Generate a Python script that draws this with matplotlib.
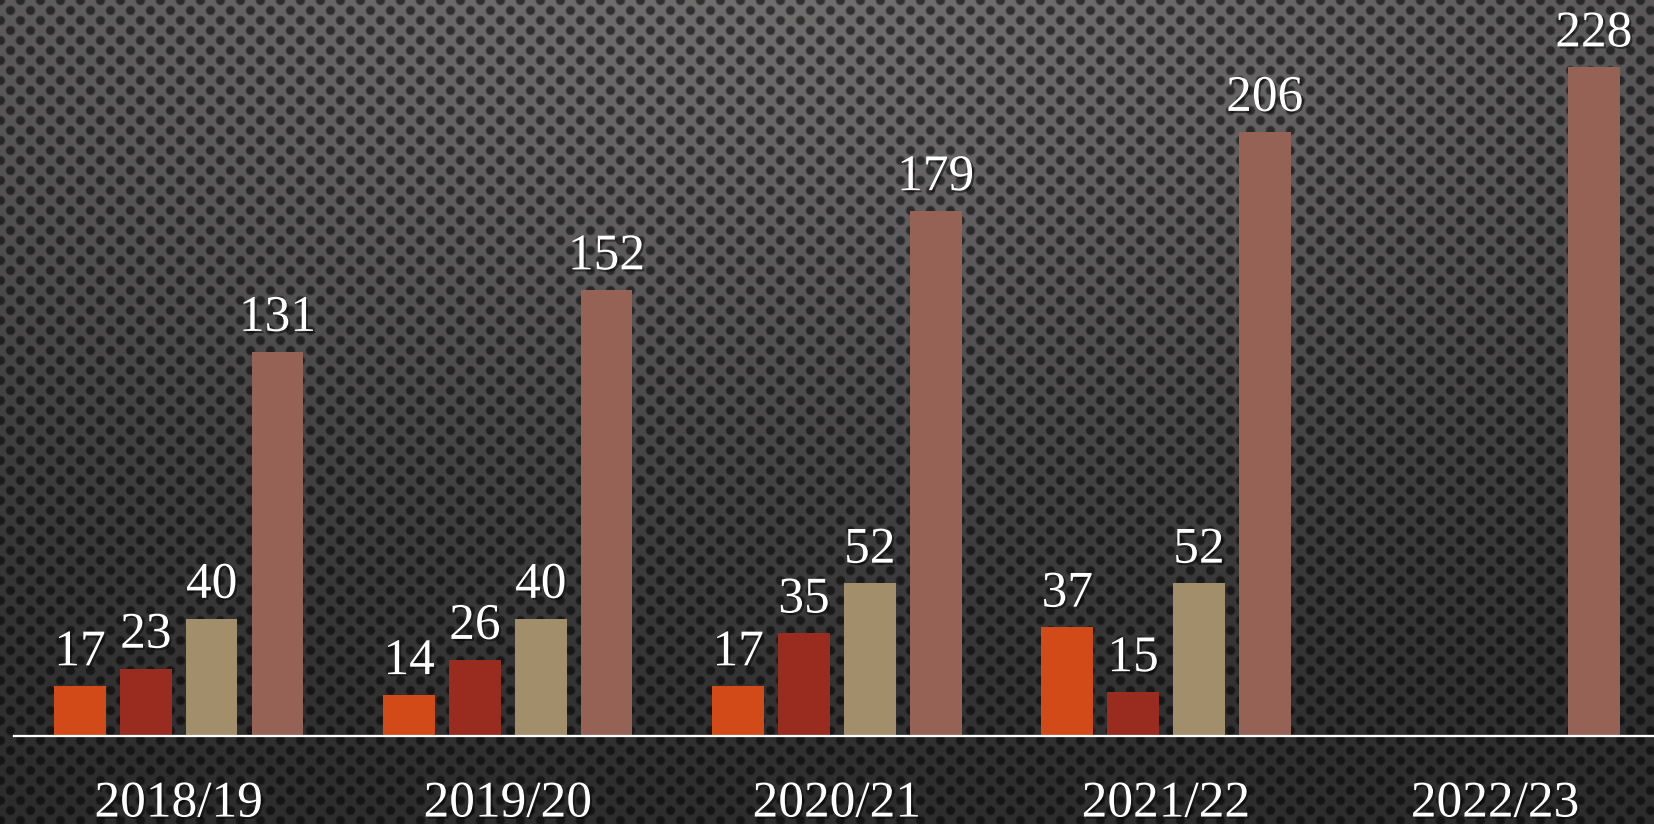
import numpy as np
import matplotlib
matplotlib.use('Agg')
import matplotlib.pyplot as plt
import matplotlib.patheffects as pe

# data
seasons = ['2018/19', '2019/20', '2020/21', '2021/22', '2022/23']
series_a = [17, 14, 17, 37, np.nan]
series_b = [23, 26, 35, 15, np.nan]
series_c = [40, 40, 52, 52, np.nan]
series_d = [131, 152, 179, 206, 228]
colors = ['#d24a18', '#9a2b1f', '#a38e6b', '#956255']

W, H = 1654, 824
fig = plt.figure(figsize=(W / 100, H / 100), dpi=100)

# perforated metal background with a soft light from the top
yy, xx = np.mgrid[0:H, 0:W].astype(float)
base = 40 + 70 * np.exp(-((xx - 800) / 1400) ** 2 - ((yy + 50) / 550) ** 2)
u = np.mod(xx, 20)
v = np.mod(yy, 20)
d1 = np.hypot(np.minimum(u, 20 - u), np.minimum(v, 20 - v))
d2 = np.hypot(u - 10, v - 10)
d = np.minimum(d1, d2)
dot = np.clip((5.5 - d) / 2.0, 0, 1)
lum = base * (1 - 0.55 * dot)
img = np.dstack([lum * 1.02, lum, lum]) / 255.0
fig.figimage(np.clip(img, 0, 1), 0, 0, origin='upper', zorder=-10)

ax = fig.add_axes([14.2 / W, 88 / H, 1645.5 / W, 733.3 / H])
ax.set_zorder(1)
ax.patch.set_visible(False)

x = np.arange(len(seasons))
font = 'Liberation Serif'
fs = 37
shadow = [pe.withSimplePatchShadow(offset=(1.5, -1.5), shadow_rgbFace='black', alpha=0.45)]

for k, (vals, c) in enumerate(zip([series_a, series_b, series_c, series_d], colors)):
    xs = x + (k - 1.5) * 0.2
    ax.bar(xs, vals, width=0.157, color=c, zorder=2)
    for xi, val in zip(xs, vals):
        if np.isnan(val):
            continue
        ax.annotate(f'{val:.0f}', (xi, val), xytext=(0, 15), textcoords='offset points',
                    ha='center', va='baseline', fontsize=fs, color='white',
                    family=font, path_effects=shadow)

for xi, s in zip(x, seasons):
    ax.annotate(s, (xi, 0), xytext=(0, -58), textcoords='offset points',
                ha='center', va='baseline', fontsize=fs, color='white',
                family=font, path_effects=shadow, annotation_clip=False)

ax.set_xlim(-0.5, 4.5)
ax.set_ylim(0, 250)
ax.set_xticks([])
ax.set_yticks([])
for side in ['top', 'right', 'left']:
    ax.spines[side].set_visible(False)
ax.spines['bottom'].set_color('white')
ax.spines['bottom'].set_linewidth(1.6)
ax.spines['bottom'].set_zorder(3)

fig.savefig('out.png', dpi=100)
